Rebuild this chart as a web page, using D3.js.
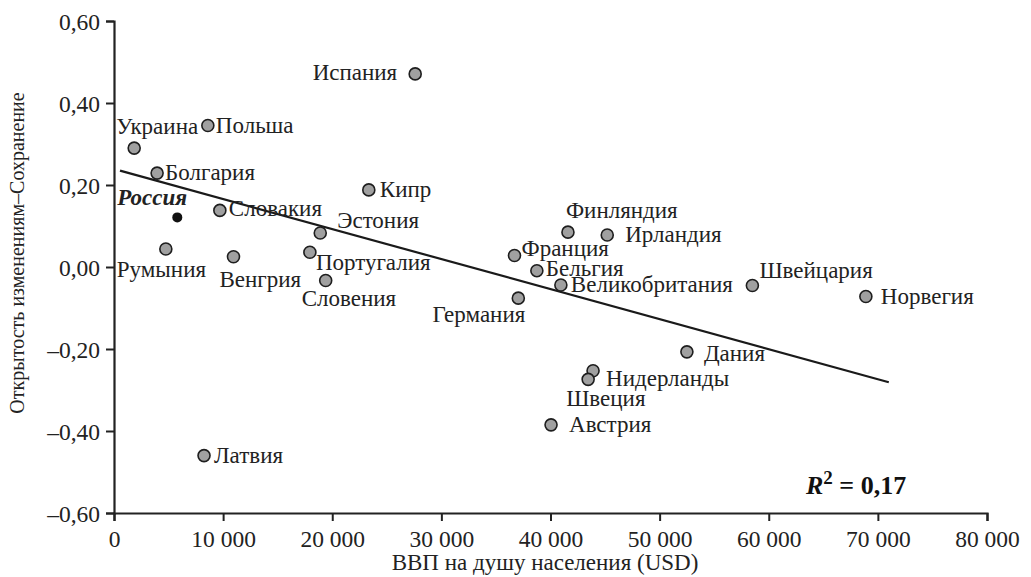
<!DOCTYPE html>
<html>
<head>
<meta charset="utf-8">
<script src="https://cdn.jsdelivr.net/npm/d3@7"></script>
<style>
  html, body { margin: 0; padding: 0; background: #fff; }
  svg text { font-family: "Liberation Serif", "Times New Roman", Tinos, "DejaVu Serif", serif !important; }
</style>
</head>
<body>
<svg id="chart" width="1031" height="577"></svg>
<script>
// ---- data ----
const countries = ["Испания","Польша","Украина","Болгария","Россия","Словакия","Кипр","Эстония",
  "Румыния","Венгрия","Португалия","Словения","Финляндия","Ирландия","Франция","Бельгия",
  "Великобритания","Германия","Швейцария","Норвегия","Дания","Нидерланды","Швеция","Австрия","Латвия"];
const gdp = [27600, 8600, 1850, 3950, 5800, 9700, 23350, 18900,
  4750, 10950, 17950, 19400, 41600, 45200, 36700, 38750,
  40950, 37050, 58500, 68900, 52500, 43900, 43450, 40050, 8250];
const openness = [0.471, 0.345, 0.290, 0.229, 0.121, 0.138, 0.188, 0.083,
  0.044, 0.025, 0.036, -0.033, 0.085, 0.078, 0.028, -0.009,
  -0.044, -0.076, -0.045, -0.072, -0.207, -0.253, -0.274, -0.385, -0.460];
const highlighted = ["Россия"];
const trendX = [550, 71000];
const trendY = [0.235, -0.281];
const xTicks = [0, 10000, 20000, 30000, 40000, 50000, 60000, 70000, 80000];
const yTicks = [0.6, 0.4, 0.2, 0, -0.2, -0.4, -0.6];
const xTitle = "ВВП на душу населения (USD)";
const yTitle = "Открытость изменениям–Сохранение";
const r2Label = "0,17";

// label placement (anchor, dx, dy relative to point)
const labelPlace = {
  "Испания": ["end", -18, 6], "Польша": ["start", 8, 7], "Украина": ["start", -18, -14],
  "Болгария": ["start", 8, 7], "Россия": ["start", -60, -12], "Словакия": ["start", 9, 6],
  "Кипр": ["start", 11, 7], "Эстония": ["start", 17, -5], "Румыния": ["start", -49, 28],
  "Венгрия": ["start", -14, 30], "Португалия": ["start", 6, 18], "Словения": ["start", -24, 25],
  "Финляндия": ["start", -2, -14], "Ирландия": ["start", 18, 7], "Франция": ["start", 7, 0],
  "Бельгия": ["start", 9, 5], "Великобритания": ["start", 10, 7], "Германия": ["end", 7, 24],
  "Швейцария": ["start", 7, -7], "Норвегия": ["start", 15, 7], "Дания": ["start", 17, 9],
  "Нидерланды": ["start", 13, 15], "Швеция": ["start", -22, 27], "Австрия": ["start", 18, 7],
  "Латвия": ["start", 10, 7]
};

const svg = d3.select("#chart");
const x = d3.scaleLinear().domain([0, 80000]).range([114, 987]);
const y = d3.scaleLinear().domain([-0.6, 0.6]).range([513, 21]);

const fmtY = v => (v < 0 ? "–" : "") + Math.abs(v).toFixed(2).replace(".", ",");
const fmtX = v => v === 0 ? "0" : d3.format(",")(v).replace(/,/g, " ");

// axes
const yAxis = svg.append("g").attr("transform", "translate(114,0)")
  .call(d3.axisLeft(y).tickValues(yTicks).tickFormat(fmtY).tickSize(8).tickPadding(6));
const xAxis = svg.append("g").attr("transform", "translate(0,513)")
  .call(d3.axisBottom(x).tickValues(xTicks).tickFormat(fmtX).tickSize(8).tickPadding(9));
[yAxis, xAxis].forEach(g => {
  g.attr("font-family", null);
  g.select(".domain").attr("stroke", "#222").attr("stroke-width", 2.2);
  g.selectAll(".tick line").attr("stroke", "#222").attr("stroke-width", 2);
  g.selectAll(".tick text").attr("fill", "#222").style("font-size", "23.5px");
});
yAxis.selectAll(".tick text").attr("dy", "0.34em");

// titles
svg.append("text").attr("x", 545).attr("y", 570).attr("text-anchor", "middle")
  .style("font-size", "23px").attr("fill", "#222").text(xTitle);
svg.append("text").attr("transform", "translate(24,253) rotate(-90)").attr("text-anchor", "middle")
  .style("font-size", "20px").attr("fill", "#222").text(yTitle);

// trend line
svg.append("line")
  .attr("x1", x(trendX[0])).attr("y1", y(trendY[0]))
  .attr("x2", x(trendX[1])).attr("y2", y(trendY[1]))
  .attr("stroke", "#1a1a1a").attr("stroke-width", 2.2);

// points
const data = countries.map((c, i) => ({ c, gx: gdp[i], oy: openness[i] }));
svg.append("g").selectAll("circle").data(data).join("circle")
  .attr("cx", d => x(d.gx)).attr("cy", d => y(d.oy))
  .attr("r", d => highlighted.includes(d.c) ? 5 : 6)
  .attr("fill", d => highlighted.includes(d.c) ? "#111" : "#a0a0a0")
  .attr("stroke", d => highlighted.includes(d.c) ? "none" : "#1e1e1e")
  .attr("stroke-width", 1.6);

// labels
svg.append("g").selectAll("text").data(data).join("text")
  .attr("x", d => x(d.gx) + labelPlace[d.c][1])
  .attr("y", d => y(d.oy) + labelPlace[d.c][2])
  .attr("text-anchor", d => labelPlace[d.c][0])
  .style("font-size", "23px")
  .style("font-weight", d => highlighted.includes(d.c) ? "bold" : "normal")
  .style("font-style", d => highlighted.includes(d.c) ? "italic" : "normal")
  .attr("fill", "#222")
  .text(d => d.c);

// R^2
const r2 = svg.append("text").attr("x", 806).attr("y", 494)
  .style("font-size", "26px").style("font-weight", "bold").attr("fill", "#111");
r2.append("tspan").style("font-style", "italic").text("R");
r2.append("tspan").attr("dy", -10).style("font-size", "19px").text("2");
r2.append("tspan").attr("dy", 10).text(" = " + r2Label);
</script>
</body>
</html>
